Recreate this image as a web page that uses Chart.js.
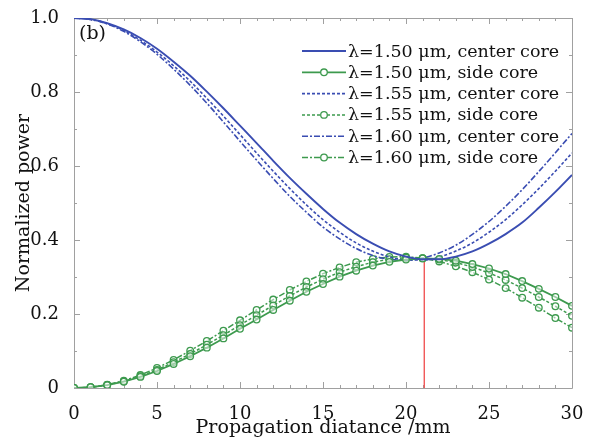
<!DOCTYPE html>
<html>
<head>
<meta charset="utf-8">
<script src="https://cdn.jsdelivr.net/npm/chart.js@4/dist/chart.umd.min.js"></script>
<style>
  html, body { margin: 0; padding: 0; background: #fff; }
  #wrap { width: 597px; height: 440px; }
</style>
</head>
<body>
<div id="wrap"><canvas id="graph"></canvas></div>
<script>
// propagation distance (mm)
var xs = [0,1,2,3,4,5,6,7,8,9,10,11,12,13,14,15,16,17,18,19,20,21,22,23,24,25,26,27,28,29,30];

// normalized power
var center150 = [1.000,0.997,0.986,0.969,0.946,0.917,0.882,0.844,0.801,0.756,0.709,0.662,0.614,0.568,0.525,0.484,0.447,0.416,0.390,0.369,0.355,0.348,0.348,0.355,0.369,0.390,0.416,0.447,0.487,0.530,0.576];
var side150   = [0,0.002,0.008,0.017,0.030,0.046,0.065,0.086,0.109,0.134,0.160,0.185,0.211,0.236,0.260,0.281,0.301,0.317,0.331,0.341,0.347,0.350,0.349,0.344,0.335,0.323,0.308,0.289,0.268,0.246,0.222];
var center155 = [1.000,0.996,0.985,0.966,0.940,0.908,0.871,0.829,0.783,0.735,0.685,0.635,0.586,0.539,0.495,0.455,0.421,0.392,0.370,0.354,0.346,0.346,0.354,0.370,0.392,0.421,0.455,0.495,0.539,0.586,0.635];
var side155   = [0,0.002,0.008,0.018,0.032,0.049,0.070,0.092,0.117,0.143,0.170,0.197,0.223,0.249,0.273,0.294,0.313,0.328,0.340,0.348,0.352,0.351,0.347,0.339,0.327,0.311,0.292,0.270,0.246,0.221,0.195];
var center160 = [1.000,0.996,0.984,0.964,0.936,0.902,0.862,0.818,0.770,0.719,0.667,0.616,0.566,0.518,0.475,0.435,0.403,0.377,0.358,0.348,0.345,0.351,0.365,0.386,0.415,0.450,0.491,0.536,0.585,0.636,0.688];
var side160   = [0,0.002,0.009,0.020,0.035,0.054,0.076,0.101,0.127,0.155,0.183,0.211,0.239,0.265,0.288,0.309,0.326,0.340,0.349,0.354,0.355,0.351,0.342,0.329,0.313,0.293,0.270,0.244,0.217,0.189,0.163];

var legendLabels = [
  'λ=1.50 μm, center core',
  'λ=1.50 μm, side core',
  'λ=1.55 μm, center core',
  'λ=1.55 μm, side core',
  'λ=1.60 μm, center core',
  'λ=1.60 μm, side core'
];

// red marker line (coupling length)
var markX = 21.1;
var markTop = 0.347;

var xTicks = [0,5,10,15,20,25,30];
var yTicks = [0,0.2,0.4,0.6,0.8,1.0];

var BLUE = '#3a4db2';
var GREEN = '#3d9a4e';
var SERIF = '"DejaVu Serif", serif';

function pts(arr) {
  return arr.map(function (v, i) { return { x: xs[i], y: v }; });
}

function centerSet(label, arr, dash) {
  return {
    label: label, data: pts(arr),
    borderColor: BLUE, borderWidth: dash.length ? 1.6 : 1.9, borderDash: dash,
    pointRadius: 0, cubicInterpolationMode: 'monotone', fill: false
  };
}
function sideSet(label, arr, dash) {
  return {
    label: label, data: pts(arr),
    borderColor: GREEN, borderWidth: dash.length ? 1.5 : 1.8, borderDash: dash,
    pointRadius: 3.3, pointBorderWidth: 1.3, pointBorderColor: GREEN,
    pointBackgroundColor: 'rgba(255,255,255,0.5)',
    tension: 0, fill: false
  };
}

var datasets = [
  centerSet(legendLabels[0], center150, []),
  sideSet(legendLabels[1], side150, []),
  centerSet(legendLabels[2], center155, [3, 2]),
  sideSet(legendLabels[3], side155, [3, 2]),
  centerSet(legendLabels[4], center160, [6, 2, 2, 2]),
  sideSet(legendLabels[5], side160, [6, 2, 2, 2]),
  {
    label: 'mark', data: [{ x: markX, y: 0 }, { x: markX, y: markTop }],
    borderColor: '#f04a4a', borderWidth: 1.3, pointRadius: 0, fill: false
  }
];

// box frame with inward ticks on all four sides
var frameTicks = {
  id: 'frameTicks',
  beforeDatasetsDraw: function (chart) {
    var ctx = chart.ctx, a = chart.chartArea;
    var sx = chart.scales.x, sy = chart.scales.y;
    ctx.save();
    ctx.strokeStyle = '#a0a0a0';
    ctx.lineWidth = 1;
    ctx.beginPath();
    ctx.rect(Math.round(a.left) + 0.5, Math.round(a.top) + 0.5,
      Math.round(a.right - a.left), Math.round(a.bottom - a.top));
    var v, p, len;
    for (v = 0; v <= 30; v++) {
      p = Math.round(sx.getPixelForValue(v)) + 0.5;
      len = v % 5 === 0 ? 6 : 3;
      ctx.moveTo(p, a.bottom); ctx.lineTo(p, a.bottom - len);
      ctx.moveTo(p, a.top); ctx.lineTo(p, a.top + len);
    }
    for (v = 0; v <= 10; v++) {
      p = Math.round(sy.getPixelForValue(v / 10)) + 0.5;
      len = v % 2 === 0 ? 6 : 3;
      ctx.moveTo(a.left, p); ctx.lineTo(a.left + len, p);
      ctx.moveTo(a.right, p); ctx.lineTo(a.right - len, p);
    }
    ctx.stroke();
    ctx.restore();
  }
};

// legend inside the plot, plus the panel tag
var innerLegend = {
  id: 'innerLegend',
  afterDatasetsDraw: function (chart) {
    var ctx = chart.ctx, a = chart.chartArea;
    ctx.save();
    ctx.textBaseline = 'middle';
    ctx.fillStyle = '#111';
    ctx.font = '19px ' + SERIF;
    ctx.fillText('(b)', a.left + 5, a.top + 16);
    ctx.font = '17.5px ' + SERIF;
    for (var i = 0; i < legendLabels.length; i++) {
      var ds = chart.data.datasets[i];
      var y = a.top + 33 + i * 21.3;
      var x0 = 302, x1 = 346;
      ctx.strokeStyle = ds.borderColor;
      ctx.lineWidth = ds.borderWidth;
      ctx.setLineDash(ds.borderDash);
      ctx.beginPath();
      ctx.moveTo(x0, y); ctx.lineTo(x1, y);
      ctx.stroke();
      ctx.setLineDash([]);
      if (ds.pointRadius) {
        ctx.beginPath();
        ctx.arc((x0 + x1) / 2, y, ds.pointRadius, 0, Math.PI * 2);
        ctx.fillStyle = '#fff';
        ctx.fill();
        ctx.lineWidth = ds.pointBorderWidth;
        ctx.stroke();
      }
      ctx.fillStyle = '#111';
      ctx.fillText(legendLabels[i], x1 + 2, y + 1);
    }
    ctx.restore();
  }
};

new Chart(document.getElementById('graph').getContext('2d'), {
  type: 'line',
  data: { datasets: datasets },
  plugins: [frameTicks, innerLegend],
  options: {
    responsive: true,
    maintainAspectRatio: false,
    animation: false,
    layout: { padding: { top: 18, right: 25, bottom: 0, left: 0 } },
    plugins: { legend: { display: false }, tooltip: { enabled: false } },
    scales: {
      x: {
        type: 'linear', min: 0, max: 30,
        grid: { display: false }, border: { display: false },
        afterBuildTicks: function (s) { s.ticks = xTicks.map(function (v) { return { value: v }; }); },
        afterFit: function (s) { s.height = 52; },
        ticks: { padding: 8, color: '#111', font: { family: SERIF, size: 18 }, maxRotation: 0 },
        title: { display: true, text: 'Propagation diatance /mm', color: '#111',
          font: { family: SERIF, size: 19 }, padding: { top: 0, bottom: 1 } }
      },
      y: {
        type: 'linear', min: 0, max: 1,
        grid: { display: false }, border: { display: false },
        afterBuildTicks: function (s) { s.ticks = yTicks.map(function (v) { return { value: v }; }); },
        afterFit: function (s) { s.width = 74; },
        ticks: { padding: 7, color: '#111', font: { family: SERIF, size: 18 },
          callback: function (v) { return v === 0 ? '0' : v.toFixed(1); } },
        title: { display: true, text: 'Normalized power', color: '#111',
          font: { family: SERIF, size: 19 }, padding: { top: 13, bottom: 0 } }
      }
    }
  }
});
</script>
</body>
</html>
